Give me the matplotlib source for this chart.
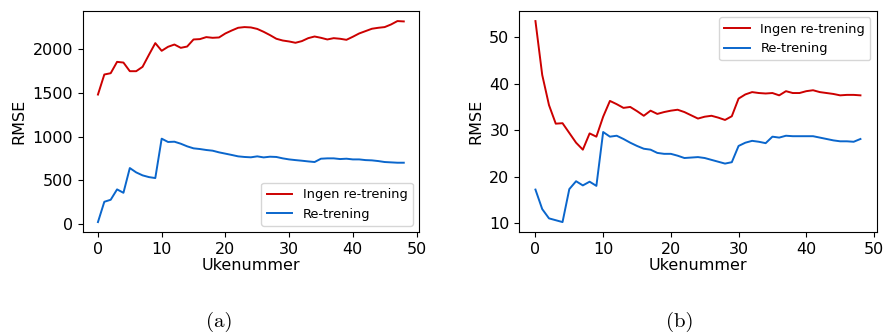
import matplotlib
matplotlib.use('Agg')
import matplotlib.pyplot as plt

weeks = list(range(49))

# (a) RMSE per uke
a_ingen = [1483, 1713, 1728, 1858, 1850, 1751, 1751, 1801, 1939, 2073,
           1985, 2031, 2057, 2019, 2034, 2115, 2119, 2142, 2134, 2138,
           2184, 2218, 2249, 2257, 2253, 2236, 2203, 2165, 2123, 2103,
           2092, 2077, 2096, 2130, 2149, 2134, 2115, 2130, 2123, 2111,
           2146, 2184, 2211, 2238, 2249, 2257, 2287, 2326, 2322]
a_re = [20, 253, 276, 395, 356, 640, 590, 556, 536, 525,
        977, 939, 942, 919, 889, 866, 858, 847, 839, 820,
        805, 790, 774, 767, 763, 774, 762, 770, 767, 751,
        739, 731, 724, 716, 709, 747, 751, 751, 743, 747,
        739, 739, 731, 728, 720, 709, 705, 701, 701]

# (b) RMSE per uke
b_ingen = [53.5, 41.9, 35.4, 31.4, 31.5, 29.4, 27.3, 25.8, 29.3, 28.6,
           32.9, 36.3, 35.6, 34.8, 35.0, 34.1, 33.1, 34.2, 33.5, 33.9,
           34.2, 34.4, 33.9, 33.2, 32.5, 32.9, 33.1, 32.7, 32.2, 33.0,
           36.8, 37.7, 38.2, 38.0, 37.9, 38.0, 37.5, 38.4, 38.0, 38.0,
           38.4, 38.6, 38.2, 38.0, 37.8, 37.5, 37.6, 37.6, 37.5]
b_re = [17.2, 13.0, 11.0, 10.6, 10.2, 17.3, 19.0, 18.1, 18.9, 18.0,
        29.6, 28.6, 28.8, 28.1, 27.3, 26.6, 26.0, 25.8, 25.1, 24.9,
        24.9, 24.5, 24.0, 24.1, 24.2, 24.0, 23.6, 23.2, 22.8, 23.1,
        26.6, 27.3, 27.7, 27.5, 27.2, 28.6, 28.4, 28.8, 28.7, 28.7,
        28.7, 28.7, 28.4, 28.1, 27.8, 27.6, 27.6, 27.5, 28.1]

RED = '#cc0000'
BLUE = '#0a66cc'

fig = plt.figure(figsize=(8.86, 3.34), dpi=100)
ax1 = fig.add_axes([0.0933, 0.305, 0.3797, 0.662])
ax2 = fig.add_axes([0.586, 0.305, 0.4035, 0.662])

for ax, ingen, re, loc in [(ax1, a_ingen, a_re, 'lower right'),
                           (ax2, b_ingen, b_re, 'upper right')]:
    ax.plot(weeks, ingen, color=RED, linewidth=1.4, label='Ingen re-trening')
    ax.plot(weeks, re, color=BLUE, linewidth=1.4, label='Re-trening')
    ax.set_xlabel('Ukenummer', fontsize=11.5, labelpad=1)
    ax.set_ylabel('RMSE', fontsize=11.5)
    ax.tick_params(labelsize=11.5)
    ax.set_xticks([0, 10, 20, 30, 40, 50])
    ax.legend(loc=loc, fontsize=9.3)

ax1.set_yticks([0, 500, 1000, 1500, 2000])
ax2.set_yticks([10, 20, 30, 40, 50])

fig.text(0.248, 0.036, '(a)', fontname='cmr10', fontsize=15, ha='center', va='center')
fig.text(0.767, 0.036, '(b)', fontname='cmr10', fontsize=15, ha='center', va='center')

fig.savefig('out.png', dpi=100)
